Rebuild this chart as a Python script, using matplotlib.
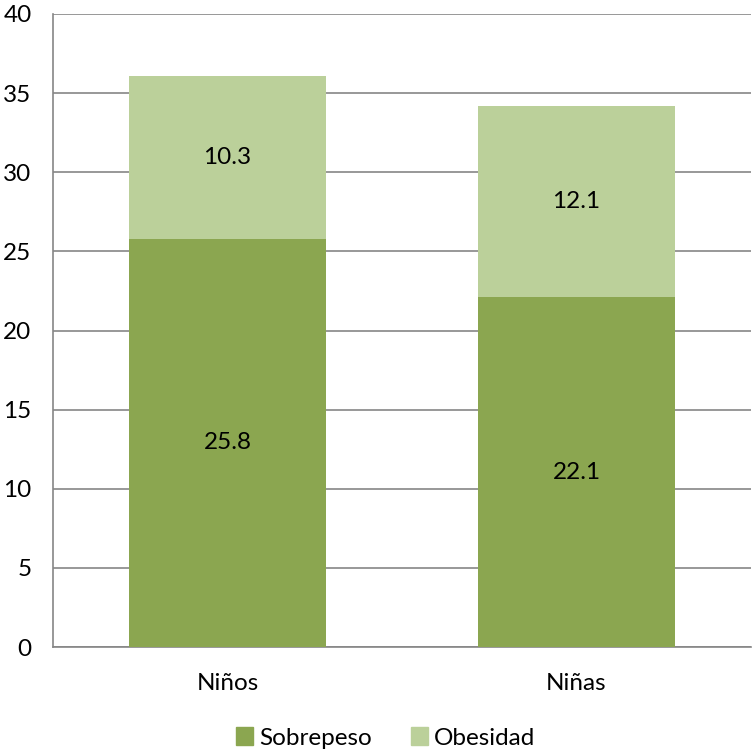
import matplotlib
matplotlib.use("Agg")
import matplotlib.pyplot as plt
from matplotlib.patches import Patch

# prevalence by sex, stacked
groups = ['Niños', 'Niñas']
sobrepeso = [25.8, 22.1]
obesidad = [10.3, 12.1]
y_ticks = [0, 5, 10, 15, 20, 25, 30, 35, 40]

DARK = '#8BA650'
LIGHT = '#BBD09A'
GRID = '#868686'
FS = 17.5


def plot():
    plt.rcParams['font.family'] = ['Lato', 'DejaVu Sans']

    fig = plt.figure(figsize=(7.52, 7.53), dpi=100)
    ax = fig.add_axes([53 / 752, 1 - 647 / 753, 698 / 752, 633 / 753])

    x = range(len(groups))
    width = 0.567
    bars1 = ax.bar(x, sobrepeso, width=width, color=DARK, zorder=3)
    bars2 = ax.bar(x, obesidad, width=width, bottom=sobrepeso, color=LIGHT, zorder=3)

    for rect, val in zip(bars1, sobrepeso):
        ax.text(rect.get_x() + rect.get_width() / 2, rect.get_y() + val / 2,
                f'{val:.1f}', ha='center', va='center', fontsize=FS, zorder=4)
    for rect, base, val in zip(bars2, sobrepeso, obesidad):
        ax.text(rect.get_x() + rect.get_width() / 2, base + val / 2,
                f'{val:.1f}', ha='center', va='center', fontsize=FS, zorder=4)

    ax.set_xlim(-0.5, 1.5)
    ax.set_ylim(0, 40)
    ax.set_yticks(y_ticks)
    ax.set_xticks(list(x))
    ax.set_xticklabels(groups)
    ax.tick_params(axis='both', length=0, labelsize=FS)
    ax.tick_params(axis='y', pad=15.5)
    ax.tick_params(axis='x', pad=19)

    ax.yaxis.grid(True, color=GRID, linewidth=1.2, zorder=0)
    for side in ('top', 'right'):
        ax.spines[side].set_visible(False)
    for side in ('left', 'bottom'):
        ax.spines[side].set_color(GRID)
        ax.spines[side].set_linewidth(1.2)

    handles = [Patch(color=DARK, label='Sobrepeso'), Patch(color=LIGHT, label='Obesidad')]
    fig.legend(handles=handles, loc='center', bbox_to_anchor=(386 / 752, 1 - 738 / 753),
               ncol=2, frameon=False, fontsize=FS, handlelength=0.7, handleheight=0.7,
               handletextpad=0.25, columnspacing=1.6)

    fig.savefig('out.png', dpi=100)


if __name__ == '__main__':
    plot()
